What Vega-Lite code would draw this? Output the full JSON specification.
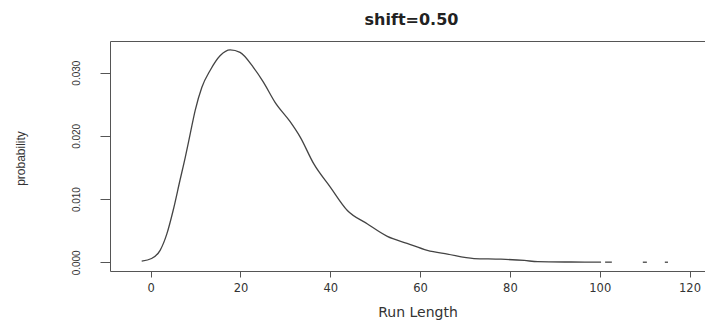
{
  "$schema": "https://vega.github.io/schema/vega-lite/v6.json",
  "width": 615,
  "height": 230,
  "autosize": {"type": "none"},
  "padding": {"left": 110, "top": 41, "right": 0, "bottom": 54},
  "background": "white",
  "title": {
    "text": "shift=0.50",
    "font": "DejaVu Sans",
    "fontSize": 16,
    "fontWeight": "bold",
    "color": "#222",
    "anchor": "middle",
    "frame": "group",
    "baseline": "alphabetic",
    "offset": 0,
    "dx": -6
  },
  "config": {
    "view": {"stroke": "#555", "strokeWidth": 1},
    "axis": {
      "domain": false,
      "grid": false,
      "tickColor": "#555",
      "labelColor": "#333",
      "titleColor": "#333",
      "titleFontWeight": "normal"
    }
  },
  "layer": [
    {
      "mark": {"type": "rule", "color": "#cfcfcf", "strokeWidth": 1.2},
      "encoding": {"y": {"datum": 0, "type": "quantitative"}}
    },
    {
      "data": {
        "values": [
          {"run": -2.0, "prob": 0.0002, "seg": 0},
          {"run": 0.2, "prob": 0.0006, "seg": 0},
          {"run": 2.1, "prob": 0.0019, "seg": 0},
          {"run": 3.6, "prob": 0.0045, "seg": 0},
          {"run": 5.0, "prob": 0.0082, "seg": 0},
          {"run": 6.5, "prob": 0.0129, "seg": 0},
          {"run": 7.7, "prob": 0.0166, "seg": 0},
          {"run": 8.8, "prob": 0.0203, "seg": 0},
          {"run": 9.9, "prob": 0.024, "seg": 0},
          {"run": 11.4, "prob": 0.0277, "seg": 0},
          {"run": 13.2, "prob": 0.0303, "seg": 0},
          {"run": 15.5, "prob": 0.0327, "seg": 0},
          {"run": 17.7, "prob": 0.0336, "seg": 0},
          {"run": 19.9, "prob": 0.0332, "seg": 0},
          {"run": 22.9, "prob": 0.0308, "seg": 0},
          {"run": 25.1, "prob": 0.0285, "seg": 0},
          {"run": 27.7, "prob": 0.0253, "seg": 0},
          {"run": 31.1, "prob": 0.0222, "seg": 0},
          {"run": 33.3, "prob": 0.0198, "seg": 0},
          {"run": 36.3, "prob": 0.0156, "seg": 0},
          {"run": 40.0, "prob": 0.0119, "seg": 0},
          {"run": 43.8, "prob": 0.0082, "seg": 0},
          {"run": 48.2, "prob": 0.0061, "seg": 0},
          {"run": 52.7, "prob": 0.0041, "seg": 0},
          {"run": 57.1, "prob": 0.003, "seg": 0},
          {"run": 61.6, "prob": 0.0019, "seg": 0},
          {"run": 66.1, "prob": 0.0013, "seg": 0},
          {"run": 72.0, "prob": 0.0006, "seg": 0},
          {"run": 78.0, "prob": 0.0005, "seg": 0},
          {"run": 83.2, "prob": 0.0003, "seg": 0},
          {"run": 86.2, "prob": 0.0001, "seg": 0},
          {"run": 93.6, "prob": 0.00005, "seg": 0},
          {"run": 100.3, "prob": 0.00003, "seg": 0},
          {"run": 101.2, "prob": 0.00003, "seg": 1},
          {"run": 102.7, "prob": 0.00003, "seg": 1},
          {"run": 109.6, "prob": 0.00002, "seg": 2},
          {"run": 110.5, "prob": 0.00002, "seg": 2},
          {"run": 114.5, "prob": 0.00002, "seg": 3},
          {"run": 115.2, "prob": 0.00002, "seg": 3}
        ]
      },
      "mark": {"type": "line", "color": "#444", "strokeWidth": 1.3, "clip": true, "interpolate": "monotone"},
      "encoding": {
        "x": {
          "field": "run",
          "type": "quantitative",
          "scale": {"domain": [-9.06, 127.9], "nice": false, "zero": false},
          "axis": {
            "values": [0, 20, 40, 60, 80, 100, 120],
            "tickSize": 6,
            "labelPadding": 5,
            "labelFont": "DejaVu Sans",
            "labelFontSize": 11.5,
            "labelFlush": false,
            "title": "Run Length",
            "titleFont": "DejaVu Sans",
            "titleFontSize": 14,
            "titlePadding": 12
          }
        },
        "y": {
          "field": "prob",
          "type": "quantitative",
          "scale": {"domain": [-0.00137, 0.035], "nice": false, "zero": false},
          "axis": {
            "values": [0, 0.005, 0.01, 0.015, 0.02, 0.025, 0.03, 0.035],
            "format": ".3f",
            "labelExpr": "indexof(['0.000','0.010','0.020','0.030'], datum.label) >= 0 ? datum.label : ''",
            "labelOverlap": false,
            "labelAngle": 270,
            "labelAlign": "center",
            "labelBaseline": "alphabetic",
            "labelPadding": 21,
            "tickSize": 10,
            "labelFont": "Liberation Sans",
            "labelFontSize": 10,
            "title": "probability",
            "titleFont": "Liberation Sans",
            "titleFontSize": 12,
            "titleAngle": 270,
            "titleX": -90,
            "titleY": 117,
            "titleAlign": "center",
            "titleBaseline": "middle"
          }
        },
        "detail": {"field": "seg", "type": "nominal"}
      }
    }
  ]
}
